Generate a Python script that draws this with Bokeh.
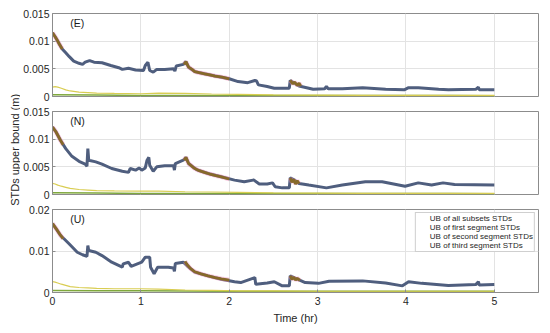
import numpy as np
from bokeh.plotting import figure
from bokeh.layouts import column, row
from bokeh.models import (FixedTicker, PrintfTickFormatter, Legend, LegendItem,
                          Range1d, Label)
from bokeh.embed import file_html
from bokeh.resources import INLINE

nan = float("nan")

# ---------------- data ----------------
# (E) panel
e_t = [0, 0.03, 0.056, 0.08, 0.11, 0.15, 0.19, 0.24, 0.30, 0.34, 0.37, 0.42, 0.47, 0.56, 0.66,
       0.75, 0.79, 0.86, 0.94, 1.03, 1.05, 1.08, 1.10, 1.14, 1.18, 1.27, 1.37, 1.385, 1.40, 1.48,
       1.51, 1.54, 1.61, 1.72, 1.84, 2.0, 2.10, 2.21, 2.29, 2.31, 2.33, 2.43, 2.51, 2.60, 2.68,
       2.69, 2.74, 2.79, 2.95, 3.08, 3.10, 3.12, 3.28, 3.51, 3.77, 3.98, 4.03, 4.14, 4.37, 4.48,
       4.79, 4.82, 4.83, 5.0]
e_all = [0.0115, 0.0108, 0.0101, 0.0094, 0.0086, 0.0079, 0.0072, 0.0064, 0.0060, 0.0058, 0.0062,
         0.0065, 0.0062, 0.0061, 0.0056, 0.0052, 0.0049, 0.0051, 0.0048, 0.0047, 0.0056, 0.0062,
         0.0047, 0.0044, 0.0049, 0.0049, 0.0050, 0.0046, 0.0055, 0.0058, 0.0063, 0.0053, 0.0045,
         0.0041, 0.0037, 0.0032, 0.0027, 0.0025, 0.0029, 0.0028, 0.0021, 0.0018, 0.0015, 0.0015,
         0.0015, 0.0029, 0.0024, 0.0019, 0.0013, 0.0014, 0.0018, 0.0014, 0.0014, 0.0016, 0.0013,
         0.0012, 0.0016, 0.0016, 0.0013, 0.0012, 0.0013, 0.0017, 0.0012, 0.0012]
e_first_t = [0, 0.03, 0.056, 0.08, 0.11, nan, 1.49, 1.51, 1.54, 1.58, 1.61, 1.66, 1.72, 1.78,
             1.84, 1.92, 2.0, nan, 2.69, 2.72, 2.74, 2.77, 2.79, 2.81]
e_first = [0.0115, 0.0108, 0.0101, 0.0094, 0.0086, nan, 0.0058, 0.0063, 0.0053, 0.0049, 0.0045,
           0.0043, 0.0041, 0.0039, 0.0037, 0.0035, 0.0032, nan, 0.0029, 0.0023, 0.0026, 0.0020,
           0.0024, 0.0019]

# (N) panel
n_t = [0, 0.04, 0.09, 0.15, 0.22, 0.30, 0.37, 0.39, 0.40, 0.41, 0.49, 0.56, 0.67, 0.79, 0.86,
       0.88, 0.94, 0.98, 1.01, 1.05, 1.07, 1.09, 1.10, 1.14, 1.18, 1.27, 1.37, 1.38, 1.39, 1.48,
       1.51, 1.54, 1.63, 1.76, 1.91, 2.06, 2.17, 2.27, 2.28, 2.34, 2.43, 2.49, 2.52, 2.60, 2.68,
       2.69, 2.74, 2.79, 2.90, 3.10, 3.28, 3.54, 3.73, 3.99, 4.14, 4.29, 4.42, 4.55, 5.0]
n_all = [0.0122, 0.0113, 0.0098, 0.0083, 0.0069, 0.0060, 0.0055, 0.0051, 0.0083, 0.0062, 0.0059,
         0.0055, 0.0047, 0.0042, 0.0040, 0.0047, 0.0044, 0.0048, 0.0044, 0.0048, 0.0062, 0.0067,
         0.0053, 0.0042, 0.0050, 0.0052, 0.0052, 0.0044, 0.0056, 0.0062, 0.0067, 0.0056, 0.0045,
         0.0038, 0.0032, 0.0026, 0.0023, 0.0026, 0.0026, 0.0019, 0.0019, 0.0021, 0.0014, 0.0012,
         0.0012, 0.0030, 0.0026, 0.0020, 0.0017, 0.0012, 0.0017, 0.0023, 0.0023, 0.0015, 0.0021,
         0.0017, 0.0021, 0.0018, 0.0017]
n_first_t = [0, 0.04, 0.09, 0.12, nan, 1.49, 1.51, 1.54, 1.60, 1.66, 1.72, 1.78, 1.85, 1.91, 2.0,
             nan, 2.69, 2.71, 2.73, 2.75, 2.77, 2.79]
n_first = [0.0122, 0.0113, 0.0098, 0.0090, nan, 0.0062, 0.0067, 0.0056, 0.0048, 0.0043, 0.0040,
           0.0037, 0.0034, 0.0032, 0.0028, nan, 0.0030, 0.0022, 0.0027, 0.0019, 0.0025, 0.0020]

# (U) panel
u_t = [0, 0.04, 0.09, 0.19, 0.28, 0.34, 0.39, 0.40, 0.41, 0.49, 0.56, 0.67, 0.79, 0.80, 0.86,
       0.89, 1.01, 1.05, 1.10, 1.11, 1.15, 1.19, 1.31, 1.37, 1.38, 1.39, 1.48, 1.52, 1.61, 1.76,
       1.91, 2.06, 2.13, 2.29, 2.30, 2.43, 2.51, 2.60, 2.68, 2.69, 2.74, 2.86, 3.01, 3.13, 3.51,
       3.77, 3.96, 4.03, 4.18, 4.48, 4.79, 4.82, 4.83, 5.0]
u_all = [0.0166, 0.0154, 0.0138, 0.0117, 0.0097, 0.0091, 0.0087, 0.0113, 0.0101, 0.0097, 0.0089,
         0.0073, 0.0061, 0.0069, 0.0073, 0.0063, 0.0073, 0.0085, 0.0085, 0.0061, 0.0045, 0.0061,
         0.0061, 0.0059, 0.0051, 0.0070, 0.0073, 0.0065, 0.0049, 0.0040, 0.0032, 0.0026, 0.0024,
         0.0036, 0.0020, 0.0023, 0.0026, 0.0016, 0.0016, 0.0040, 0.0035, 0.0024, 0.0022, 0.0027,
         0.0028, 0.0023, 0.0016, 0.0026, 0.0022, 0.0017, 0.0019, 0.0026, 0.0018, 0.0019]
u_first_t = [0, 0.04, 0.09, 0.12, nan, 1.50, 1.52, 1.56, 1.61, 1.68, 1.76, 1.84, 1.91, 2.0, nan,
             2.69, 2.71, 2.73, 2.75, 2.77, 2.80]
u_first = [0.0166, 0.0154, 0.0138, 0.0130, nan, 0.0075, 0.0068, 0.0058, 0.0050, 0.0045, 0.0040,
           0.0036, 0.0033, 0.0030, nan, 0.0040, 0.0032, 0.0037, 0.0030, 0.0034, 0.0029]

# second / third segment series
second_t = [0, 0.03, 0.06, 0.1, 0.15, 0.2, 0.3, 0.4, 0.5, 0.7, 1.0, 1.2, 1.5, 1.8, 2.1, 2.5,
            3.0, 3.5, 4.0, 4.5, 5.0]
e_second = [0.0017, 0.0018, 0.0017, 0.0015, 0.0012, 0.0010, 0.0008, 0.0007, 0.0006, 0.00055,
            0.0005, 0.0006, 0.00055, 0.00045, 0.0004, 0.0003, 0.00025, 0.0002, 0.0002, 0.0002,
            0.0002]
n_second = [0.0020, 0.0019, 0.0017, 0.0015, 0.0013, 0.0011, 0.0009, 0.0008, 0.0007, 0.00065,
            0.0006, 0.0006, 0.0005, 0.00045, 0.0004, 0.0003, 0.00025, 0.0002, 0.0002, 0.0002,
            0.0002]
u_second = [0.0026, 0.0025, 0.0023, 0.0020, 0.0017, 0.0014, 0.0012, 0.0011, 0.0010, 0.0009,
            0.0009, 0.0008, 0.0006, 0.0005, 0.0004, 0.0004, 0.0003, 0.0003, 0.0003, 0.0003,
            0.0003]
third_t = [0, 0.5, 1, 1.5, 2, 2.5, 3, 3.5, 4, 4.5, 5]
e_third = [0.0003, 0.00025, 0.0002, 0.0002, 0.0002, 0.0002, 0.00018, 0.00018, 0.00017, 0.00016, 0.00015]
n_third = [0.0003, 0.00025, 0.0002, 0.0002, 0.0002, 0.0002, 0.00018, 0.00018, 0.00017, 0.00016, 0.00015]
u_third = [0.0005, 0.00045, 0.0004, 0.00035, 0.0003, 0.0003, 0.0003, 0.0003, 0.0003, 0.0003, 0.0003]

x_ticks = [0, 1, 2, 3, 4, 5]
y_ticks_en = [0, 0.005, 0.01, 0.015]
y_ticks_u = [0, 0.01, 0.02]
panel_labels = ["(E)", "(N)", "(U)"]
y_title = "STDs upper bound (m)"
x_title = "Time (hr)"
legend_labels = ["UB of all subsets STDs", "UB of first segment STDs",
                 "UB of second segment STDs", "UB of third segment STDs"]

FONT = "Liberation Sans"
C_ALL = "#4f5e7e"
C_DOT = "#8d9bb5"
C_FIRST = "#86692a"
C_PINK = "#ee8fc0"
C_SECOND = "#d9cd52"
C_THIRD = "#7fa83c"
C_TEXT = "#262626"


def make_panel(t_all, v_all, t_first, v_first, v_second, v_third, ymax, yticks, label,
               height, b_top, b_bottom, bottom=False, legend=False):
    p = figure(width=530, height=height, output_backend="svg", toolbar_location=None,
               x_range=Range1d(0, 5.5), y_range=Range1d(0, ymax),
               min_border_left=30, min_border_right=12, min_border_top=b_top,
               min_border_bottom=b_bottom)
    p.outline_line_color = "#8c8c8c"
    p.xgrid.grid_line_color = "#e3e3e3"
    p.ygrid.grid_line_color = "#e3e3e3"

    for ax in (p.xaxis[0], p.yaxis[0]):
        ax.axis_line_color = "#8c8c8c"
        ax.major_tick_line_color = "#8c8c8c"
        ax.major_tick_in = 3
        ax.major_tick_out = 0
        ax.minor_tick_line_color = None
        ax.major_label_text_font = FONT
        ax.major_label_text_font_size = "10.5px"
        ax.major_label_text_color = C_TEXT
        ax.major_label_text_line_height = 1.0
        ax.axis_label_text_font = FONT
        ax.axis_label_text_font_size = "11px"
        ax.axis_label_text_font_style = "normal"
        ax.axis_label_text_color = C_TEXT
        ax.axis_label_text_line_height = 1.0

    p.xaxis.ticker = FixedTicker(ticks=x_ticks)
    p.yaxis.ticker = FixedTicker(ticks=yticks)
    p.yaxis.formatter = PrintfTickFormatter(format="%g")
    p.yaxis.major_label_standoff = 3
    if bottom:
        p.xaxis.major_label_standoff = 4
        p.xaxis.axis_label = x_title
        p.xaxis.axis_label_standoff = 4
    else:
        p.xaxis.visible = False

    r3 = p.line(third_t, v_third, line_color=C_THIRD, line_width=1.5)
    r2 = p.line(second_t, v_second, line_color=C_SECOND, line_width=1.2)
    p.line(t_all, v_all, line_color=C_ALL, line_width=3)
    p.line(t_first, v_first, line_color=C_PINK, line_width=4.5, line_alpha=0.45)
    p.line(t_first, v_first, line_color=C_FIRST, line_width=2.8)

    p.add_layout(Label(x=0.2, y=ymax * 0.885, text=label, text_font=FONT,
                       text_font_size="10.5px", text_baseline="middle", text_color="#1a1a1a"))

    if legend:
        l0 = p.scatter([], [], size=3, color=C_DOT)
        l1 = p.line([], [], line_color=C_FIRST, line_width=1.5)
        l2 = p.line([], [], line_color=C_SECOND, line_width=1.5)
        l3 = p.line([], [], line_color=C_THIRD, line_width=1.5)
        leg = Legend(items=[LegendItem(label=legend_labels[0], renderers=[l0]),
                            LegendItem(label=legend_labels[1], renderers=[l1]),
                            LegendItem(label=legend_labels[2], renderers=[l2]),
                            LegendItem(label=legend_labels[3], renderers=[l3])],
                     location="top_right")
        leg.margin = 3
        leg.padding = 1
        leg.spacing = 0
        leg.glyph_height = 8
        leg.glyph_width = 12
        leg.label_height = 8
        leg.label_standoff = 1
        leg.label_text_font = FONT
        leg.label_text_font_size = "8px"
        leg.label_text_color = C_TEXT
        leg.label_text_line_height = 1.0
        leg.border_line_color = "#a0a0a0"
        leg.background_fill_alpha = 1
        p.add_layout(leg, "center")
    return p


p1 = make_panel(e_t, e_all, e_first_t, e_first, e_second, e_third, 0.015, y_ticks_en,
                panel_labels[0], 104, 13, 8)
p2 = make_panel(n_t, n_all, n_first_t, n_first, n_second, n_third, 0.015, y_ticks_en,
                panel_labels[1], 98, 7, 8)
p3 = make_panel(u_t, u_all, u_first_t, u_first, u_second, u_third, 0.02, y_ticks_u,
                panel_labels[2], 130, 7, 40, bottom=True, legend=True)

# narrow strip holding the shared y-axis title
lab = figure(width=20, height=332, output_backend="svg", toolbar_location=None,
             x_range=Range1d(0, 1), y_range=Range1d(0, 1),
             min_border_left=0, min_border_right=0, min_border_top=0, min_border_bottom=0)
lab.xaxis.visible = False
lab.yaxis.visible = False
lab.xgrid.visible = False
lab.ygrid.visible = False
lab.outline_line_color = None
lab.add_layout(Label(x=0.7, y=0.55, text=y_title, angle=np.pi / 2, text_font=FONT,
                     text_font_size="11px", text_align="center", text_baseline="middle",
                     text_color=C_TEXT))

layout = row(lab, column(p1, p2, p3, spacing=0), spacing=0)
open("out.html", "w").write(file_html(layout, INLINE))
